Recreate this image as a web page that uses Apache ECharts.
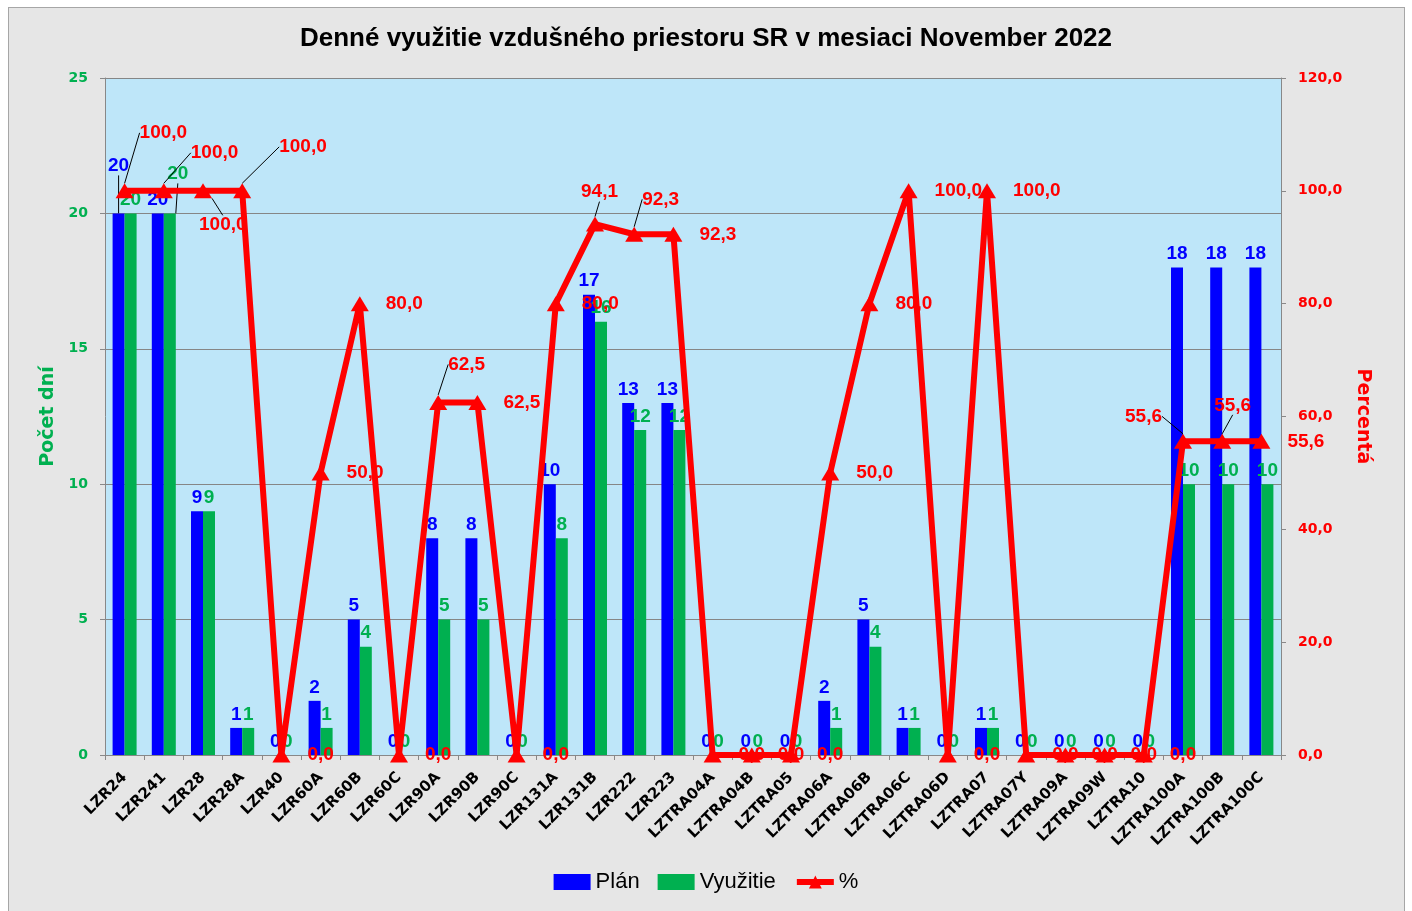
<!DOCTYPE html>
<html>
<head>
<meta charset="utf-8">
<script src="https://cdn.jsdelivr.net/npm/echarts@6/dist/echarts.min.js"></script>
<style>
  html, body { margin: 0; padding: 0; background: #ffffff; }
  #frame { position: absolute; left: 8px; top: 7px; width: 1395px; height: 910px; background: #e6e6e6; border: 1px solid #a6a6a6; }
  #chart { position: absolute; left: 0; top: 0; width: 1412px; height: 911px; }
</style>
</head>
<body>
<div id="frame"></div>
<div id="chart"></div>
<script>
const categories = ["LZR24", "LZR241", "LZR28", "LZR28A", "LZR40", "LZR60A", "LZR60B", "LZR60C", "LZR90A", "LZR90B",
  "LZR90C", "LZR131A", "LZR131B", "LZR222", "LZR223", "LZTRA04A", "LZTRA04B", "LZTRA05", "LZTRA06A", "LZTRA06B",
  "LZTRA06C", "LZTRA06D", "LZTRA07", "LZTRA07Y", "LZTRA09A", "LZTRA09W", "LZTRA10", "LZTRA100A", "LZTRA100B", "LZTRA100C"];
const planValues = [20, 20, 9, 1, 0, 2, 5, 0, 8, 8, 0, 10, 17, 13, 13, 0, 0, 0, 2, 5, 1, 0, 1, 0, 0, 0, 0, 18, 18, 18];
const usageValues = [20, 20, 9, 1, 0, 1, 4, 0, 5, 5, 0, 8, 16, 12, 12, 0, 0, 0, 1, 4, 1, 0, 1, 0, 0, 0, 0, 10, 10, 10];
const pctValues = [100, 100, 100, 100, 0, 50, 80, 0, 62.5, 62.5, 0, 80, 94.1, 92.3, 92.3, 0, 0, 0, 50, 80, 100, 0, 100, 0, 0, 0, 0, 55.6, 55.6, 55.6];

// labels that were dragged around in the original, [dx, dy]
const pctLabelShift = { 0: [-11, -58], 1: [1, -38], 2: [-30, 34], 3: [11, -44], 8: [-16, -38], 12: [-40, -32], 13: [-18, -35], 27: [-84, -25], 28: [-34, -36] };
const planLabelShift = { 0: [0, -34] };
const usageLabelShift = { 1: [8, -26] };

const fmt1 = (v) => v.toFixed(1).replace(".", ",");
const guide = { show: true, lineStyle: { color: "#000", width: 1 } };
const withGuides = (vals, shifts) => vals.map((v, i) => (shifts[i] ? { value: v, labelLine: guide } : v));
const shiftLayout = (shifts) => (p) => {
  const s = shifts[p.dataIndex];
  return s ? { dx: s[0], dy: s[1] } : {};
};

const chart = echarts.init(document.getElementById("chart"));

const option = {
  animation: false,
  title: {
    text: "Denné využitie vzdušného priestoru SR v mesiaci November 2022",
    left: "center",
    top: 21,
    textStyle: { fontFamily: "Liberation Sans", fontWeight: "bold", fontSize: 26, color: "#000" }
  },
  grid: { left: 105, right: 131, top: 78, bottom: 156, show: true, backgroundColor: "#bee6f9", borderWidth: 0 },
  legend: {
    bottom: 13,
    left: "center",
    itemWidth: 37,
    itemHeight: 16,
    itemGap: 18,
    textStyle: { fontFamily: "Liberation Sans", fontSize: 22, color: "#000" },
    data: [
      { name: "Plán", icon: "rect" },
      { name: "Využitie", icon: "rect" },
      { name: "%", lineStyle: { width: 6, color: "#ff0000" } }
    ]
  },
  xAxis: {
    type: "category",
    data: categories,
    axisLine: { lineStyle: { color: "#888", width: 1 } },
    axisTick: { show: true, lineStyle: { color: "#888" } },
    axisLabel: { interval: 0, rotate: 45, margin: 20, color: "#000", fontFamily: "DejaVu Sans", fontWeight: "bold", fontSize: 15 }
  },
  yAxis: [
    {
      type: "value",
      min: 0,
      max: 25,
      interval: 5,
      position: "left",
      name: "Počet dní",
      nameLocation: "middle",
      nameRotate: 90,
      nameGap: 47,
      nameTextStyle: { color: "#00b050", fontFamily: "DejaVu Sans", fontWeight: "bold", fontSize: 19 },
      axisLine: { show: true, lineStyle: { color: "#888" } },
      axisTick: { show: true, lineStyle: { color: "#888" } },
      splitLine: { lineStyle: { color: "#868686", width: 1 } },
      axisLabel: { margin: 17, color: "#00b050", fontFamily: "DejaVu Sans", fontWeight: "bold", fontSize: 14 }
    },
    {
      type: "value",
      min: 0,
      max: 120,
      interval: 20,
      position: "right",
      name: "Percentá",
      nameLocation: "middle",
      nameRotate: -90,
      nameGap: 72,
      nameTextStyle: { color: "#ff0000", fontFamily: "DejaVu Sans", fontWeight: "bold", fontSize: 19 },
      axisLine: { show: true, lineStyle: { color: "#888" } },
      axisTick: { show: true, lineStyle: { color: "#888" } },
      splitLine: { show: false },
      axisLabel: { margin: 17, color: "#ff0000", fontFamily: "DejaVu Sans", fontWeight: "bold", fontSize: 14, formatter: fmt1 }
    }
  ],
  series: [
    {
      name: "Plán",
      type: "bar",
      yAxisIndex: 0,
      barWidth: 12,
      barGap: "0%",
      itemStyle: { color: "#0000ff" },
      data: withGuides(planValues, planLabelShift),
      label: { show: true, position: "top", distance: 4, color: "#0000ff", fontFamily: "Liberation Sans", fontWeight: "bold", fontSize: 19 },
      labelLayout: shiftLayout(planLabelShift),
      z: 2
    },
    {
      name: "Využitie",
      type: "bar",
      yAxisIndex: 0,
      barWidth: 12,
      barGap: "0%",
      itemStyle: { color: "#00b050" },
      data: withGuides(usageValues, usageLabelShift),
      label: { show: true, position: "top", distance: 4, color: "#00b050", fontFamily: "Liberation Sans", fontWeight: "bold", fontSize: 19 },
      labelLayout: shiftLayout(usageLabelShift),
      z: 2
    },
    {
      name: "%",
      type: "line",
      yAxisIndex: 1,
      symbol: "triangle",
      symbolSize: [18, 15],
      showAllSymbol: true,
      lineStyle: { color: "#ff0000", width: 6 },
      itemStyle: { color: "#ff0000" },
      data: withGuides(pctValues, pctLabelShift),
      label: {
        show: true,
        position: "right",
        distance: 17,
        color: "#ff0000",
        fontFamily: "Liberation Sans",
        fontWeight: "bold",
        fontSize: 19,
        formatter: (p) => fmt1(p.value)
      },
      labelLayout: shiftLayout(pctLabelShift),
      z: 5
    }
  ]
};

chart.setOption(option);
</script>
</body>
</html>
